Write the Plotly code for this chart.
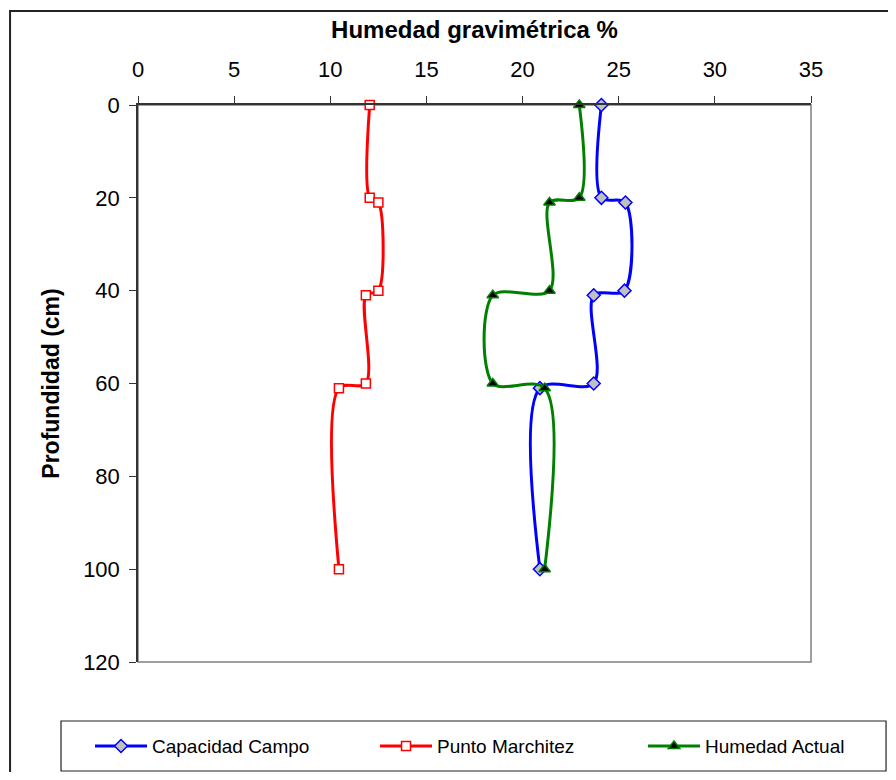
import plotly.graph_objects as go

depth = [0, 20, 21, 40, 41, 60, 61, 100]
capacidad_campo = [24.1, 24.1, 25.35, 25.3, 23.7, 23.7, 20.9, 20.9]
punto_marchitez = [12.05, 12.05, 12.5, 12.5, 11.85, 11.85, 10.45, 10.45]
humedad_actual = [22.95, 22.95, 21.4, 21.4, 18.45, 18.45, 21.15, 21.15]

series = [
    ("Capacidad Campo", capacidad_campo, "#0000FF", "diamond", "#C0C0C0", 10, "legend", -0.0713),
    ("Punto Marchitez", punto_marchitez, "#FF0000", "square", "#FFFFFF", 9, "legend2", 0.3522),
    ("Humedad Actual", humedad_actual, "#008000", "triangle-up", "#000000", 10, "legend3", 0.7504),
]

font_family = "Liberation Sans, Arial, sans-serif"

fig = go.Figure()
legend_layout = {}
for name, xs, color, symbol, fill, size, leg, lx in series:
    fig.add_trace(go.Scatter(
        x=xs, y=depth, name=name, mode="lines+markers", legend=leg,
        cliponaxis=False,
        line=dict(color=color, width=3, shape="spline", smoothing=0.9),
        marker=dict(symbol=symbol, size=size, color=fill,
                    line=dict(color=color, width=1.5)),
    ))
    legend_layout[leg] = dict(
        orientation="h", x=lx, xanchor="left", y=-0.151, yanchor="middle",
        borderwidth=0, bgcolor="rgba(0,0,0,0)",
        font=dict(size=19), itemwidth=52,
    )

fig.update_layout(
    width=880, height=764,
    margin=dict(l=130, r=77, t=97, b=110, autoexpand=False),
    paper_bgcolor="white", plot_bgcolor="white",
    font=dict(family=font_family, size=22, color="black"),
    showlegend=True,
    shapes=[
        dict(type="rect", xref="paper", yref="paper", x0=0, x1=1, y0=0, y1=1,
             line=dict(color="#808080", width=1.5), layer="below"),
        dict(type="rect", xref="paper", yref="paper",
             x0=-0.1901, x1=1.5, y0=-0.5, y1=1.1688,
             line=dict(color="#222222", width=2), layer="below"),
        dict(type="rect", xref="paper", yref="paper",
             x0=-0.1144, x1=1.1115, y0=-0.1957, y1=-0.1059,
             line=dict(color="#222222", width=1.2), fillcolor="white", layer="below"),
    ],
    **legend_layout,
)

fig.update_xaxes(
    range=[0, 35], side="top", dtick=5, tick0=0,
    showgrid=False, zeroline=False,
    showline=True, linecolor="#333333", linewidth=1.5,
    ticks="outside", ticklen=7, tickcolor="#333333", tickwidth=1,
    ticklabelstandoff=10, tickfont=dict(size=22),
    title=dict(text="<b>Humedad gravimétrica %</b>", font=dict(size=24), standoff=12),
)
fig.update_yaxes(
    range=[120, 0], dtick=20, tick0=0,
    showgrid=False, zeroline=False,
    showline=True, linecolor="#333333", linewidth=1.5,
    ticks="outside", ticklen=7, tickcolor="#333333", tickwidth=1,
    ticklabelstandoff=5, tickfont=dict(size=22),
    title=dict(text="<b>Profundidad (cm)</b>", font=dict(size=23), standoff=17),
)

fig.write_html("out.html")
